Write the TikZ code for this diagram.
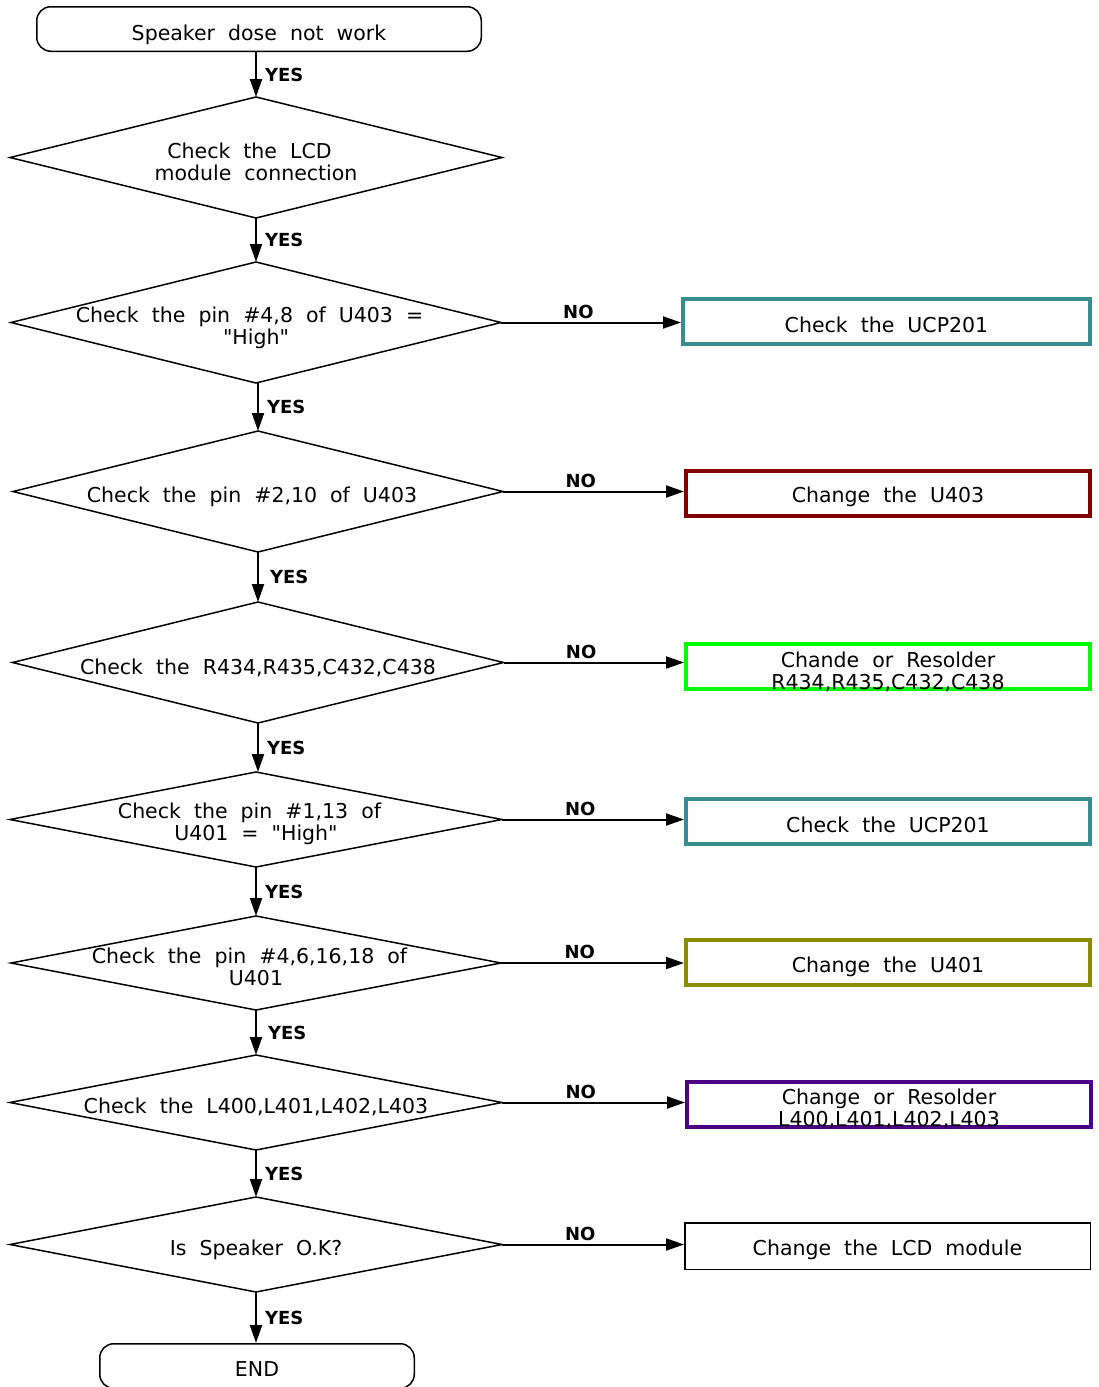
\documentclass[tikz,border=0pt]{standalone}
\usepackage{fontspec}
\setmainfont{DejaVu Sans}[WordSpace=2, Ligatures=TeXOff]
\usetikzlibrary{arrows.meta,shapes.geometric}
\definecolor{teal1}{RGB}{56,142,142}
\definecolor{dred}{RGB}{128,0,0}
\definecolor{lgreen}{RGB}{0,255,0}
\definecolor{olive1}{RGB}{140,140,0}
\definecolor{purp}{RGB}{75,0,130}
\newcommand\tsp{\hspace*{13pt}}
\tikzset{
  diam/.style={diamond, draw, line width=1.5pt, inner sep=0pt, outer sep=0pt},
  term/.style={rectangle, rounded corners=14pt, draw, line width=1.5pt, inner sep=0pt},
  act/.style={rectangle, draw, line width=4pt, inner sep=0pt},
  arr/.style={line width=2pt, -{Triangle[length=18pt,width=12pt]}},
  yes/.style={font=\bfseries\fontsize{18}{20}\selectfont, anchor=west, inner sep=0pt, xshift=8pt},
  no/.style={font=\bfseries\fontsize{18}{20}\selectfont, above, inner sep=3pt, pos=0.43},
  every label/.style={align=center, inner sep=0pt, font=\fontsize{20.5}{22}\selectfont},
}
\begin{document}
\begin{tikzpicture}[x=1pt, y=-1pt]
\useasboundingbox (0,0) rectangle (1099,1387);
\fill[white] (0,0) rectangle (1099,1387);

% terminals
\node[term, minimum width=444.5pt, minimum height=44.5pt, label={[yshift=-6pt]center:Speaker dose not work}] (S) at (259,29) {};
\node[term, minimum width=314.5pt, minimum height=44.5pt, label={[yshift=-3pt]center:END}] (E) at (257,1366) {};

% decisions
\node[diam, minimum width=492pt, minimum height=121pt, label={[yshift=-4pt]center:Check the LCD\tsp\\module connection}] (D1) at (256,157.5) {};
\node[diam, minimum width=490pt, minimum height=121pt, label={[yshift=-5pt]center:Check the pin \#4,8 of U403 =\tsp\\"High"}] (D2) at (256,322.5) {};
\node[diam, minimum width=490pt, minimum height=121pt, label={[yshift=-5pt,xshift=-6pt]center:Check the pin \#2,10 of U403}] (D3) at (258,491.5) {};
\node[diam, minimum width=491pt, minimum height=121pt, label={[yshift=-5pt]center:Check the R434,R435,C432,C438}] (D4) at (258,662.5) {};
\node[diam, minimum width=492pt, minimum height=95pt, label={[yshift=-4pt]center:Check the pin \#1,13 of\tsp\\U401 = "High"}] (D5) at (256,819.5) {};
\node[diam, minimum width=490pt, minimum height=94pt, label={[yshift=-4pt]center:Check the pin \#4,6,16,18 of\tsp\\U401}] (D6) at (256,963) {};
\node[diam, minimum width=492pt, minimum height=95pt, label={[yshift=-4pt]center:Check the L400,L401,L402,L403}] (D7) at (256,1102.5) {};
\node[diam, minimum width=492pt, minimum height=95pt, label={[yshift=-5pt]center:Is Speaker O.K?}] (D8) at (256,1244.5) {};

% actions
\node[act, draw=teal1, minimum width=407pt, minimum height=45pt, label={[yshift=-3pt]center:Check the UCP201}] (B1) at (886.5,321.5) {};
\node[act, draw=dred, minimum width=404pt, minimum height=45pt, label={[yshift=-3pt]center:Change the U403}] (B2) at (888,493.5) {};
\node[act, draw=lgreen, minimum width=404pt, minimum height=45pt, label={[yshift=-5pt]center:Chande or Resolder\\R434,R435,C432,C438}] (B3) at (888,666.5) {};
\node[act, draw=teal1, minimum width=404pt, minimum height=45pt, label={[yshift=-3pt]center:Check the UCP201}] (B4) at (888,821.5) {};
\node[act, draw=olive1, minimum width=404pt, minimum height=45pt, label={[yshift=-4pt]center:Change the U401}] (B5) at (888,962.5) {};
\node[act, draw=purp, minimum width=404pt, minimum height=45pt, label={[yshift=-4pt]center:Change or Resolder\\ L400,L401,L402,L403}] (B6) at (889,1104.5) {};
\node[act, line width=1.5pt, minimum width=405.5pt, minimum height=46.5pt, label={[yshift=-4pt]center:Change the LCD module}] (B7) at (887.5,1246) {};

% vertical YES arrows
\draw[arr] (D1.north |- S.south) -- node[yes]{YES} (D1.north);
\draw[arr] (D1.south) -- node[yes]{YES} (D2.north);
\draw[arr] (D3.north |- D2.south) -- node[yes]{YES} (D3.north);
\draw[arr] (D3.south) -- node[yes, xshift=3pt]{YES} (D4.north);
\draw[arr] (D4.south) -- node[yes]{YES} (D5.north -| D4.south);
\draw[arr] (D5.south) -- node[yes]{YES} (D6.north);
\draw[arr] (D6.south) -- node[yes, xshift=3pt]{YES} (D7.north);
\draw[arr] (D7.south) -- node[yes]{YES} (D8.north);
\draw[arr] (D8.south) -- node[yes]{YES} (D8.south |- E.north);

% horizontal NO arrows
\draw[arr] (D2.east) -- node[no]{NO} (D2.east -| B1.west);
\draw[arr] (D3.east) -- node[no]{NO} (D3.east -| B2.west);
\draw[arr] (D4.east) -- node[no]{NO} (D4.east -| B3.west);
\draw[arr] (D5.east) -- node[no]{NO} (D5.east -| B4.west);
\draw[arr] (D6.east) -- node[no]{NO} (D6.east -| B5.west);
\draw[arr] (D7.east) -- node[no]{NO} (D7.east -| B6.west);
\draw[arr] (D8.east) -- node[no]{NO} (D8.east -| B7.west);
\end{tikzpicture}
\end{document}
